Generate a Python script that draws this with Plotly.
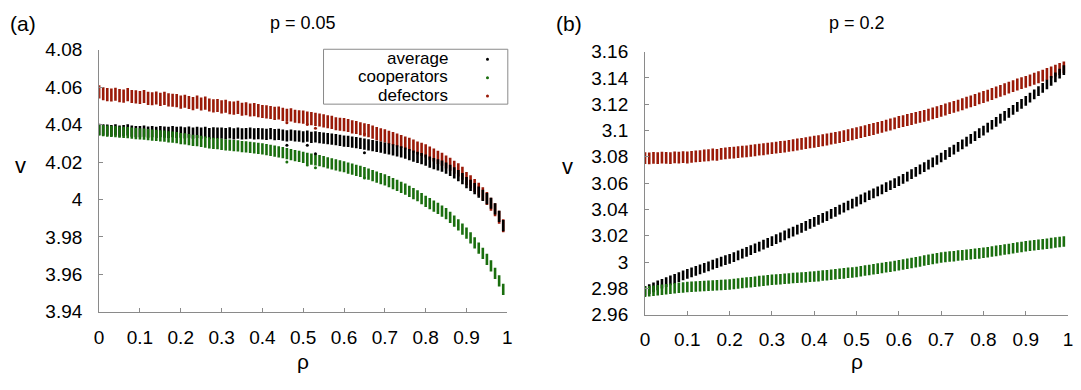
import plotly.graph_objects as go

rho = [i / 100 for i in range(100)]

# ---- panel (a): p = 0.05 (cluster centres) ----
a_def_mid = [4.0575, 4.0565, 4.0560, 4.0558, 4.0562, 4.0555, 4.0552, 4.0560, 4.0550, 4.0548,
             4.0545, 4.0550, 4.0540, 4.0538, 4.0542, 4.0535, 4.0540, 4.0532, 4.0530, 4.0528,
             4.0520, 4.0525, 4.0518, 4.0512, 4.0520, 4.0510, 4.0515, 4.0505, 4.0500, 4.0502,
             4.0495, 4.0498, 4.0490, 4.0488, 4.0492, 4.0482, 4.0485, 4.0478, 4.0480, 4.0475,
             4.0470, 4.0468, 4.0465, 4.0460, 4.0462, 4.0455, 4.0450, 4.0452, 4.0445, 4.0442,
             4.0440, 4.0435, 4.0432, 4.0428, 4.0425, 4.0420, 4.0415, 4.0412, 4.0405, 4.0402,
             4.0400, 4.0395, 4.0388, 4.0385, 4.0378, 4.0372, 4.0368, 4.0360, 4.0352, 4.0345,
             4.0340, 4.0332, 4.0325, 4.0318, 4.0310, 4.0302, 4.0295, 4.0285, 4.0275, 4.0268,
             4.0260, 4.0248, 4.0238, 4.0225, 4.0215, 4.0200, 4.0188, 4.0172, 4.0158, 4.0140,
             4.0112, 4.0095, 4.0075, 4.0055, 4.0030, 4.0005, 3.9975, 3.9945, 3.9905, 3.9860]
a_avg_mid = [4.0375, 4.0372, 4.0370, 4.0368, 4.0372, 4.0365, 4.0368, 4.0372, 4.0365, 4.0362,
             4.0362, 4.0365, 4.0360, 4.0362, 4.0358, 4.0362, 4.0360, 4.0358, 4.0362, 4.0358,
             4.0360, 4.0356, 4.0360, 4.0355, 4.0358, 4.0354, 4.0358, 4.0352, 4.0356, 4.0354,
             4.0355, 4.0352, 4.0356, 4.0350, 4.0354, 4.0350, 4.0352, 4.0355, 4.0350, 4.0352,
             4.0350, 4.0348, 4.0352, 4.0346, 4.0348, 4.0344, 4.0340, 4.0344, 4.0340, 4.0338,
             4.0335, 4.0338, 4.0332, 4.0334, 4.0330, 4.0328, 4.0325, 4.0322, 4.0320, 4.0316,
             4.0312, 4.0310, 4.0306, 4.0304, 4.0300, 4.0296, 4.0292, 4.0288, 4.0284, 4.0280,
             4.0275, 4.0270, 4.0265, 4.0260, 4.0254, 4.0248, 4.0240, 4.0232, 4.0225, 4.0218,
             4.0210, 4.0200, 4.0192, 4.0185, 4.0178, 4.0168, 4.0155, 4.0142, 4.0128, 4.0112,
             4.0090, 4.0075, 4.0058, 4.0040, 4.0022, 4.0005, 3.9980, 3.9950, 3.9910, 3.9860]
a_coop_mid = [4.0370, 4.0368, 4.0365, 4.0364, 4.0362, 4.0360, 4.0358, 4.0357, 4.0355, 4.0352,
              4.0350, 4.0349, 4.0346, 4.0344, 4.0342, 4.0340, 4.0338, 4.0335, 4.0333, 4.0330,
              4.0325, 4.0324, 4.0320, 4.0316, 4.0314, 4.0310, 4.0306, 4.0302, 4.0300, 4.0298,
              4.0295, 4.0292, 4.0290, 4.0288, 4.0286, 4.0283, 4.0281, 4.0278, 4.0276, 4.0273,
              4.0270, 4.0266, 4.0262, 4.0258, 4.0254, 4.0250, 4.0245, 4.0240, 4.0235, 4.0230,
              4.0225, 4.0220, 4.0216, 4.0212, 4.0208, 4.0202, 4.0196, 4.0190, 4.0185, 4.0180,
              4.0175, 4.0168, 4.0162, 4.0156, 4.0150, 4.0143, 4.0136, 4.0128, 4.0120, 4.0112,
              4.0105, 4.0095, 4.0085, 4.0075, 4.0065, 4.0055, 4.0044, 4.0032, 4.0020, 4.0005,
              3.9990, 3.9978, 3.9965, 3.9952, 3.9938, 3.9925, 3.9905, 3.9885, 3.9865, 3.9842,
              3.9820, 3.9795, 3.9768, 3.9740, 3.9712, 3.9680, 3.9645, 3.9605, 3.9565, 3.9520]
a_half = {"def": 0.0035, "avg": 0.0030, "coop": 0.0030}
a_out_rho = [0.46, 0.51, 0.53, 0.65]
a_out_avg = [4.0290, 4.0290, 4.0245, 4.0250]
a_out_coop = [4.0200, 4.0184, 4.0170, 4.0115]
a_out_def = [4.0410, 4.0400, 4.0380, 4.0350]

# ---- panel (b): p = 0.2 ----
b_def_mid = [3.0790, 3.0788, 3.0792, 3.0790, 3.0794, 3.0792, 3.0790, 3.0796, 3.0794, 3.0798,
             3.0795, 3.0800, 3.0804, 3.0806, 3.0810, 3.0812, 3.0818, 3.0815, 3.0822, 3.0826,
             3.0830, 3.0832, 3.0836, 3.0840, 3.0842, 3.0846, 3.0850, 3.0855, 3.0858, 3.0862,
             3.0866, 3.0870, 3.0875, 3.0878, 3.0884, 3.0888, 3.0894, 3.0898, 3.0904, 3.0910,
             3.0915, 3.0920, 3.0926, 3.0932, 3.0938, 3.0944, 3.0950, 3.0958, 3.0965, 3.0972,
             3.0980, 3.0988, 3.0995, 3.1004, 3.1012, 3.1020, 3.1028, 3.1037, 3.1046, 3.1055,
             3.1065, 3.1072, 3.1080, 3.1088, 3.1096, 3.1104, 3.1112, 3.1120, 3.1130, 3.1140,
             3.1150, 3.1160, 3.1170, 3.1180, 3.1190, 3.1200, 3.1212, 3.1222, 3.1232, 3.1244,
             3.1255, 3.1266, 3.1278, 3.1290, 3.1302, 3.1314, 3.1326, 3.1338, 3.1350, 3.1360,
             3.1370, 3.1382, 3.1394, 3.1405, 3.1418, 3.1430, 3.1442, 3.1455, 3.1468, 3.1480]
b_avg_mid = [2.9780, 2.9795, 2.9808, 2.9822, 2.9835, 2.9848, 2.9860, 2.9872, 2.9885, 2.9898,
             2.9910, 2.9922, 2.9933, 2.9945, 2.9956, 2.9968, 2.9980, 2.9992, 3.0003, 3.0014,
             3.0025, 3.0038, 3.0050, 3.0064, 3.0078, 3.0091, 3.0105, 3.0118, 3.0132, 3.0146,
             3.0160, 3.0174, 3.0188, 3.0203, 3.0218, 3.0232, 3.0246, 3.0260, 3.0275, 3.0290,
             3.0305, 3.0320, 3.0336, 3.0350, 3.0366, 3.0382, 3.0398, 3.0413, 3.0430, 3.0445,
             3.0460, 3.0476, 3.0492, 3.0508, 3.0523, 3.0538, 3.0553, 3.0569, 3.0584, 3.0600,
             3.0615, 3.0632, 3.0650, 3.0668, 3.0686, 3.0704, 3.0722, 3.0740, 3.0758, 3.0776,
             3.0795, 3.0815, 3.0835, 3.0855, 3.0875, 3.0895, 3.0915, 3.0936, 3.0958, 3.0980,
             3.1000, 3.1022, 3.1044, 3.1066, 3.1090, 3.1112, 3.1135, 3.1158, 3.1180, 3.1202,
             3.1225, 3.1250, 3.1275, 3.1300, 3.1325, 3.1350, 3.1378, 3.1404, 3.1432, 3.1460]
b_coop_mid = [2.9775, 2.9778, 2.9782, 2.9786, 2.9790, 2.9793, 2.9797, 2.9800, 2.9804, 2.9807,
              2.9810, 2.9812, 2.9814, 2.9816, 2.9818, 2.9820, 2.9822, 2.9824, 2.9826, 2.9828,
              2.9830, 2.9834, 2.9837, 2.9840, 2.9844, 2.9847, 2.9851, 2.9855, 2.9858, 2.9862,
              2.9865, 2.9868, 2.9870, 2.9873, 2.9875, 2.9878, 2.9880, 2.9883, 2.9885, 2.9888,
              2.9890, 2.9893, 2.9897, 2.9900, 2.9904, 2.9907, 2.9911, 2.9914, 2.9918, 2.9921,
              2.9925, 2.9930, 2.9935, 2.9940, 2.9945, 2.9950, 2.9955, 2.9960, 2.9965, 2.9970,
              2.9975, 2.9981, 2.9987, 2.9993, 2.9999, 3.0005, 3.0011, 3.0017, 3.0023, 3.0029,
              3.0035, 3.0038, 3.0042, 3.0045, 3.0049, 3.0052, 3.0056, 3.0059, 3.0063, 3.0066,
              3.0070, 3.0075, 3.0080, 3.0085, 3.0090, 3.0095, 3.0100, 3.0105, 3.0110, 3.0115,
              3.0120, 3.0124, 3.0128, 3.0132, 3.0136, 3.0140, 3.0144, 3.0148, 3.0152, 3.0156]
b_half = {"def": 0.0045, "avg": 0.0037, "coop": 0.0040}

x_ticks = [0, 0.1, 0.2, 0.3, 0.4, 0.5, 0.6, 0.7, 0.8, 0.9, 1]
x_tick_text = ["0", "0.1", "0.2", "0.3", "0.4", "0.5", "0.6", "0.7", "0.8", "0.9", "1"]
a_y_ticks = [3.94, 3.96, 3.98, 4.0, 4.02, 4.04, 4.06, 4.08]
a_y_text = ["3.94", "3.96", "3.98", "4", "4.02", "4.04", "4.06", "4.08"]
b_y_ticks = [2.96, 2.98, 3.0, 3.02, 3.04, 3.06, 3.08, 3.1, 3.12, 3.14, 3.16]
b_y_text = ["2.96", "2.98", "3", "3.02", "3.04", "3.06", "3.08", "3.1", "3.12", "3.14", "3.16"]

series_names = ["average", "cooperators", "defectors"]
COL = {"avg": "#000000", "coop": "#1a6e0e", "def": "#9a1a08"}

W, H = 1081, 390
FONT = "Liberation Sans, Arial, Helvetica, sans-serif"


def px_x(p):
    return p / W


def px_y(p):
    return 1 - p / H


fig = go.Figure()


def add_clusters(mid, half, color, xa, ya):
    xs, ys = [], []
    for r, m in zip(rho, mid):
        xs += [r, r, None]
        ys += [m - half, m + half, None]
    fig.add_trace(go.Scatter(x=xs, y=ys, mode="lines", xaxis=xa, yaxis=ya,
                             line=dict(color=color, width=2.6), showlegend=False,
                             hoverinfo="skip"))


for key, mid in [("def", a_def_mid), ("avg", a_avg_mid), ("coop", a_coop_mid)]:
    add_clusters(mid, a_half[key], COL[key], "x", "y")
for key, vals in [("def", a_out_def), ("avg", a_out_avg), ("coop", a_out_coop)]:
    fig.add_trace(go.Scatter(x=a_out_rho, y=vals, mode="markers", xaxis="x", yaxis="y",
                             marker=dict(color=COL[key], size=3), showlegend=False))
for key, mid in [("def", b_def_mid), ("avg", b_avg_mid), ("coop", b_coop_mid)]:
    add_clusters(mid, b_half[key], COL[key], "x2", "y2")

axis_common = dict(showgrid=False, zeroline=False, showline=True, linecolor="#8a8a8a",
                   linewidth=1, ticks="inside", ticklen=4, tickcolor="#8a8a8a",
                   tickfont=dict(size=19, color="black", family=FONT))

ax_a = [95, 507]
ax_b = [646, 1073]
ay_a = [42, 319]
ay_b = [44, 322]

fig.update_layout(
    width=W, height=H, margin=dict(l=0, r=0, t=0, b=0),
    paper_bgcolor="white", plot_bgcolor="white",
    font=dict(family=FONT, color="black"),
    showlegend=False,
    xaxis=dict(domain=[px_x(ax_a[0]), px_x(ax_a[1])], range=[0, 1], anchor="y",
               tickvals=x_ticks, ticktext=x_tick_text, ticklabelstandoff=8, **axis_common),
    yaxis=dict(domain=[px_y(ay_a[1]), px_y(ay_a[0])], range=[3.94, 4.08], anchor="x",
               tickvals=a_y_ticks, ticktext=a_y_text, ticklabelstandoff=12, **axis_common),
    xaxis2=dict(domain=[px_x(ax_b[0]), px_x(ax_b[1])], range=[0, 1], anchor="y2",
                tickvals=x_ticks, ticktext=x_tick_text, ticklabelstandoff=8, **axis_common),
    yaxis2=dict(domain=[px_y(ay_b[1]), px_y(ay_b[0])], range=[2.96, 3.16], anchor="x2",
                tickvals=b_y_ticks, ticktext=b_y_text, ticklabelstandoff=12, **axis_common),
)

ann = []


def text(x, y, s, size, xanchor="center"):
    ann.append(dict(x=px_x(x), y=px_y(y), xref="paper", yref="paper", text=s,
                    showarrow=False, xanchor=xanchor, yanchor="middle",
                    font=dict(size=size, family=FONT, color="black")))


text(18, 14, "(a)", 21)
text(301, 14, "p = 0.05", 18)
text(16, 164, "v", 22)
text(301, 371, "ρ", 21)
text(569, 14, "(b)", 21)
text(860, 14, "p = 0.2", 18)
text(568, 165, "v", 22)
text(860, 372, "ρ", 21)

# legend drawn manually (text right-aligned, dot to the right)
leg_y = [51, 70.5, 90]
for name, key, yy in zip(series_names, ["avg", "coop", "def"], leg_y):
    text(449, yy, name, 17, xanchor="right")
fig.update_layout(annotations=ann)

shapes = [dict(type="rect", xref="paper", yref="paper", x0=px_x(321.5), x1=px_x(507.5),
               y0=px_y(99.5), y1=px_y(41.5), line=dict(color="#8a8a8a", width=1),
               fillcolor="rgba(0,0,0,0)")]
for key, yy in zip(["avg", "coop", "def"], leg_y):
    shapes.append(dict(type="circle", xref="paper", yref="paper",
                       xsizemode="pixel", ysizemode="pixel",
                       xanchor=px_x(487), yanchor=px_y(yy + 1),
                       x0=-1.5, x1=1.5, y0=-1.5, y1=1.5,
                       fillcolor=COL[key], line=dict(width=0)))
fig.update_layout(shapes=shapes)

fig.write_html("out.html")
